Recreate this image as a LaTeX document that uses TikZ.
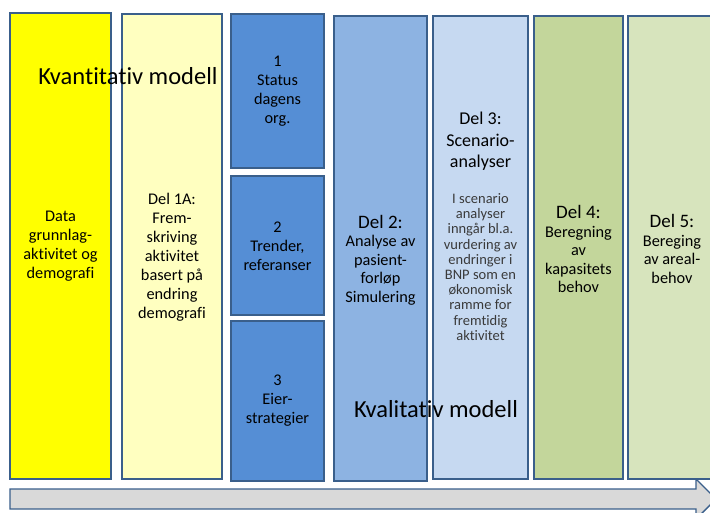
\documentclass[tikz,border=0pt]{standalone}
\usepackage{fontspec}
\setmainfont{Carlito}[Ligatures=NoCommon]
\definecolor{bordc}{HTML}{3A5F8B}
\definecolor{cyel}{HTML}{FFFF00}
\definecolor{clyel}{HTML}{FFFFC0}
\definecolor{cblue}{HTML}{558ED5}
\definecolor{cmblue}{HTML}{8DB3E2}
\definecolor{clblue}{HTML}{C6D9F1}
\definecolor{cgreen}{HTML}{C3D69B}
\definecolor{clgreen}{HTML}{D7E4BD}
\definecolor{carrow}{HTML}{D9D9D9}
\definecolor{smalltxt}{HTML}{3A3A3A}
\tikzset{
  colbox/.style={draw=bordc, line width=1.4pt, rectangle, inner sep=0pt, outer sep=0pt},
  txt/.style={align=center, inner sep=0pt, font=\fontsize{16.3}{19}\selectfont},
  txtb/.style={align=center, inner sep=0pt, font=\fontsize{16.3}{18.5}\selectfont},
  big/.style={inner sep=0pt, font=\fontsize{24.5}{28}\selectfont}
}
\begin{document}
\begin{tikzpicture}[x=1pt,y=-1pt]
\useasboundingbox (0,0) rectangle (710,512);
\fill[white] (0,0) rectangle (710,512);
% arrow
\draw[draw=bordc, line width=1.4pt, fill=carrow] (10,489) -- (696,489) -- (696,479) -- (716,499) -- (696,519) -- (696,509) -- (10,509) -- cycle;
% boxes
\node[colbox, fill=cyel, minimum width=101, minimum height=466] (b1) at (60.5,246) {};
\node[colbox, fill=clyel, minimum width=100, minimum height=465] (b2) at (172,246.5) {};
\node[colbox, fill=cblue, minimum width=93, minimum height=154] (b3a) at (277.5,91) {};
\node[colbox, fill=cblue, minimum width=93, minimum height=139] (b3b) at (277.5,245.5) {};
\node[colbox, fill=cblue, minimum width=93, minimum height=160] (b3c) at (277.5,401) {};
\node[colbox, fill=cmblue, minimum width=93, minimum height=465] (b4) at (380.5,248.5) {};
\node[colbox, fill=clblue, minimum width=95, minimum height=463] (b5) at (480.5,247.5) {};
\node[colbox, fill=cgreen, minimum width=89, minimum height=463] (b6) at (578.5,247.5) {};
\node[colbox, fill=clgreen, minimum width=88, minimum height=463] (b7) at (672,247.5) {};
% texts
\node[txt] (t1) at (60.5,246) {Data\\grunnlag-\\aktivitet og\\demografi};
\node[txt] (t2) at (172,257) {Del 1A:\\Frem-\\skriving\\aktivitet\\basert på\\endring\\demografi};
\node[txt] (t3a) at (277.5,91) {1\\Status\\dagens\\org.};
\node[txt] (t3b) at (277.5,246) {2\\Trender,\\referanser};
\node[txt] (t3c) at (277.5,401) {3\\Eier-\\strategier};
\node[txtb] (t4) at (380.5,260) {{\fontsize{19}{20}\selectfont Del 2:}\\Analyse av\\pasient-\\forløp\\Simulering};
\node[align=center, inner sep=0pt, font=\fontsize{18}{21.5}\selectfont] (t5) at (480.5,141.5) {Del 3:\\Scenario-\\analyser};
\node[align=center, inner sep=0pt, text=smalltxt, font=\fontsize{14.5}{15.2}\selectfont] (t5b) at (480.5,267) {I scenario\\analyser\\inngår bl.a.\\vurdering av\\endringer i\\BNP som en\\økonomisk\\ramme for\\fremtidig\\aktivitet};
\node[txtb] (t6) at (578.5,249) {{\fontsize{19}{20}\selectfont Del 4:}\\Beregning\\av\\kapasitets\\behov};
\node[txtb] (t7) at (672,249) {{\fontsize{19}{20}\selectfont Del 5:}\\Bereging\\av areal-\\behov};
\node[big] (kv1) at (128,76) {Kvantitativ modell};
\node[big] (kv2) at (436,409) {Kvalitativ modell};
\end{tikzpicture}
\end{document}
